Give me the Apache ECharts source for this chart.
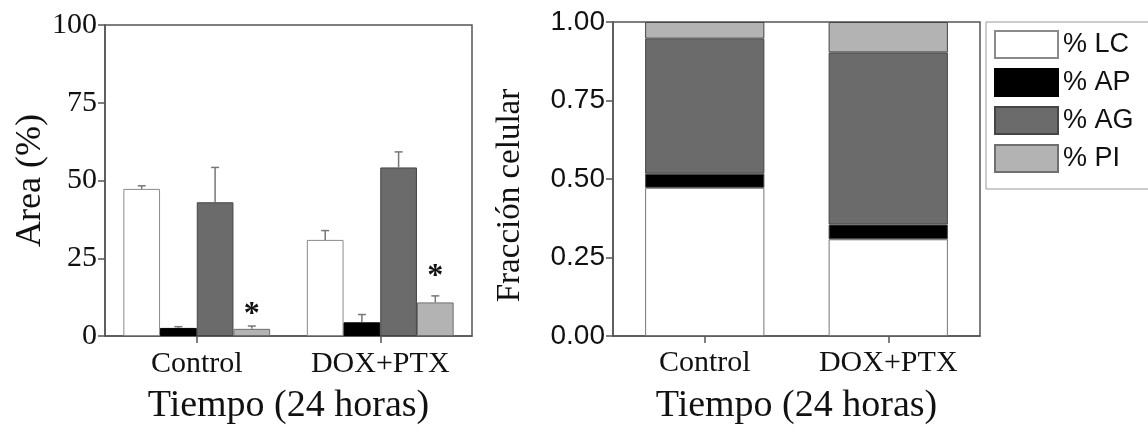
<!DOCTYPE html>
<html>
<head>
<meta charset="utf-8">
<script src="https://cdn.jsdelivr.net/npm/echarts@6/dist/echarts.min.js"></script>
<style>
  html, body { margin: 0; padding: 0; background: #ffffff; }
  #chart { width: 1148px; height: 430px; }
</style>
</head>
<body>
<div id="chart"></div>
<script>
// Groups and populations
const categories = ['Control', 'DOX+PTX'];
const seriesNames = ['% LC', '% AP', '% AG', '% PI'];

// Area (%) per population: mean and top of the error bar
const areaLC = [47.3, 30.9];
const areaAP = [2.6, 4.4];
const areaAG = [43.0, 54.2];
const areaPI = [2.3, 10.8];
const errTopLC = [48.3, 33.9];
const errTopAP = [3.0, 6.9];
const errTopAG = [54.2, 59.2];
const errTopPI = [3.2, 12.9];
// Height (in Area %) of the significance asterisk over % PI
const sigMarkPI = [9.0, 21.3];

// Cell fraction per population (stacked to 1)
const fracLC = [0.472, 0.308];
const fracAP = [0.045, 0.047];
const fracAG = [0.430, 0.548];
const fracPI = [0.053, 0.097];

// Axis ticks
const areaTicks = [0, 25, 50, 75, 100];
const fracTicks = [0, 0.25, 0.5, 0.75, 1];

const fills = ['#ffffff', '#000000', '#6b6b6b', '#b3b3b3'];
const edges = ['#8a8a8a', '#000000', '#454545', '#6f6f6f'];
const axisColor = '#555555';
const serif = 'Liberation Serif';
const sans = 'Liberation Sans';

const areaValues = [areaLC, areaAP, areaAG, areaPI];
const areaErrTops = [errTopLC, errTopAP, errTopAG, errTopPI];
const fracValues = [fracLC, fracAP, fracAG, fracPI];

const barsPerGroup = 4;
const groupShare = 0.8; // barCategoryGap 20%

function barCenter(api, c, s) {
  const band = api.size([1, 0])[0];
  const bw = band * groupShare / barsPerGroup;
  return api.coord([c, 0])[0] - band * groupShare / 2 + bw * (s + 0.5);
}

// Error bar data: [category, mean, top, series]
const errData = [];
areaValues.forEach((vals, s) => {
  vals.forEach((v, c) => errData.push([c, v, areaErrTops[s][c], s]));
});
const sigData = sigMarkPI.map((v, c) => [c, v, 3]);

function renderErr(params, api) {
  const c = api.value(0), v = api.value(1), t = api.value(2), s = api.value(3);
  const cx = barCenter(api, c, s);
  const y0 = api.coord([c, v])[1];
  const y1 = api.coord([c, t])[1];
  const st = { stroke: '#777777', lineWidth: 1.5 };
  return {
    type: 'group',
    children: [
      { type: 'line', shape: { x1: cx, y1: y0, x2: cx, y2: y1 }, style: st },
      { type: 'line', shape: { x1: cx - 4, y1: y1, x2: cx + 4, y2: y1 }, style: st }
    ]
  };
}

// The serif asterisk sits high in its line box, so the box is lowered
// to put the glyph's centre on the data point.
const sigFontSize = 32;
function renderSig(params, api) {
  const c = api.value(0), v = api.value(1), s = api.value(2);
  const cx = barCenter(api, c, s);
  const y = api.coord([c, v])[1];
  return {
    type: 'text',
    style: {
      text: '*', x: cx, y: y + sigFontSize * 0.22,
      fontFamily: serif, fontSize: sigFontSize, fontWeight: 'bold',
      fill: '#111111', align: 'center', verticalAlign: 'middle'
    }
  };
}

function valueAxis(gridIndex, ticks, name, opts) {
  return Object.assign({
    type: 'value',
    gridIndex: gridIndex,
    min: ticks[0],
    max: ticks[ticks.length - 1],
    interval: ticks[1] - ticks[0],
    name: name,
    nameLocation: 'middle',
    axisLine: { show: true, lineStyle: { color: axisColor, width: 1.5 } },
    axisTick: { show: true, length: 7, lineStyle: { color: axisColor, width: 1.5 } },
    splitLine: { show: false }
  }, opts);
}

function categoryAxis(gridIndex, opts) {
  return Object.assign({
    type: 'category',
    gridIndex: gridIndex,
    data: categories,
    name: 'Tiempo (24 horas)',
    nameLocation: 'middle',
    nameTextStyle: { fontFamily: serif, fontSize: 38, color: '#111111' },
    axisLine: { show: true, lineStyle: { color: axisColor, width: 1.5 } },
    axisTick: { show: true, alignWithLabel: true, length: 7, lineStyle: { color: axisColor, width: 1.5 } },
    splitLine: { show: false }
  }, opts);
}

const series = [];
// Left: grouped bars with error bars
seriesNames.forEach((name, s) => {
  series.push({
    name: name,
    type: 'bar',
    xAxisIndex: 0,
    yAxisIndex: 0,
    data: areaValues[s],
    barGap: '0%',
    barCategoryGap: '20%',
    itemStyle: { color: fills[s], borderColor: edges[s], borderWidth: 1 }
  });
});
series.push({
  type: 'custom',
  xAxisIndex: 0,
  yAxisIndex: 0,
  renderItem: renderErr,
  data: errData,
  z: 3,
  silent: true
});
series.push({
  type: 'custom',
  xAxisIndex: 0,
  yAxisIndex: 0,
  renderItem: renderSig,
  data: sigData,
  z: 4,
  silent: true
});
// Right: stacked cell fraction
seriesNames.forEach((name, s) => {
  series.push({
    name: name,
    type: 'bar',
    xAxisIndex: 1,
    yAxisIndex: 1,
    stack: 'fraccion',
    data: fracValues[s],
    barCategoryGap: '35%',
    itemStyle: { color: fills[s], borderColor: s === 0 ? '#777777' : '#454545', borderWidth: 1 }
  });
});

const chart = echarts.init(document.getElementById('chart'), null, { renderer: 'canvas' });
chart.setOption({
  backgroundColor: '#ffffff',
  animation: false,
  grid: [
    { left: 105, top: 25, width: 367, height: 315, show: true, borderColor: axisColor, borderWidth: 1.5, containLabel: false },
    { left: 613, top: 22, width: 367, height: 315.5, show: true, borderColor: axisColor, borderWidth: 1.5, containLabel: false }
  ],
  legend: {
    data: seriesNames,
    orient: 'vertical',
    left: 986,
    top: 22,
    icon: 'rect',
    itemWidth: 63,
    itemHeight: 27,
    itemGap: 9,
    padding: [8, 17, 16, 8],
    borderColor: '#999999',
    borderWidth: 1,
    selectedMode: false,
    textStyle: { fontFamily: sans, fontSize: 27, color: '#111111', lineHeight: 27 }
  },
  xAxis: [
    categoryAxis(0, {
      nameGap: 51,
      axisLabel: { fontFamily: serif, fontSize: 30, color: '#111111', margin: 13 }
    }),
    categoryAxis(1, {
      nameGap: 51,
      axisLabel: { fontFamily: serif, fontSize: 30, color: '#111111', margin: 12 }
    })
  ],
  yAxis: [
    valueAxis(0, areaTicks, 'Area (%)', {
      nameGap: 56,
      nameTextStyle: { fontFamily: serif, fontSize: 36, color: '#111111' },
      axisLabel: { fontFamily: serif, fontSize: 30, color: '#111111', margin: 8 }
    }),
    valueAxis(1, fracTicks, 'Fracción celular', {
      nameGap: 86,
      nameTextStyle: { fontFamily: serif, fontSize: 33, color: '#111111', padding: [0, 33, 0, 0] },
      axisLabel: {
        fontFamily: sans, fontSize: 28, color: '#111111', margin: 8,
        formatter: v => v.toFixed(2)
      }
    })
  ],
  series: series
});
</script>
</body>
</html>
